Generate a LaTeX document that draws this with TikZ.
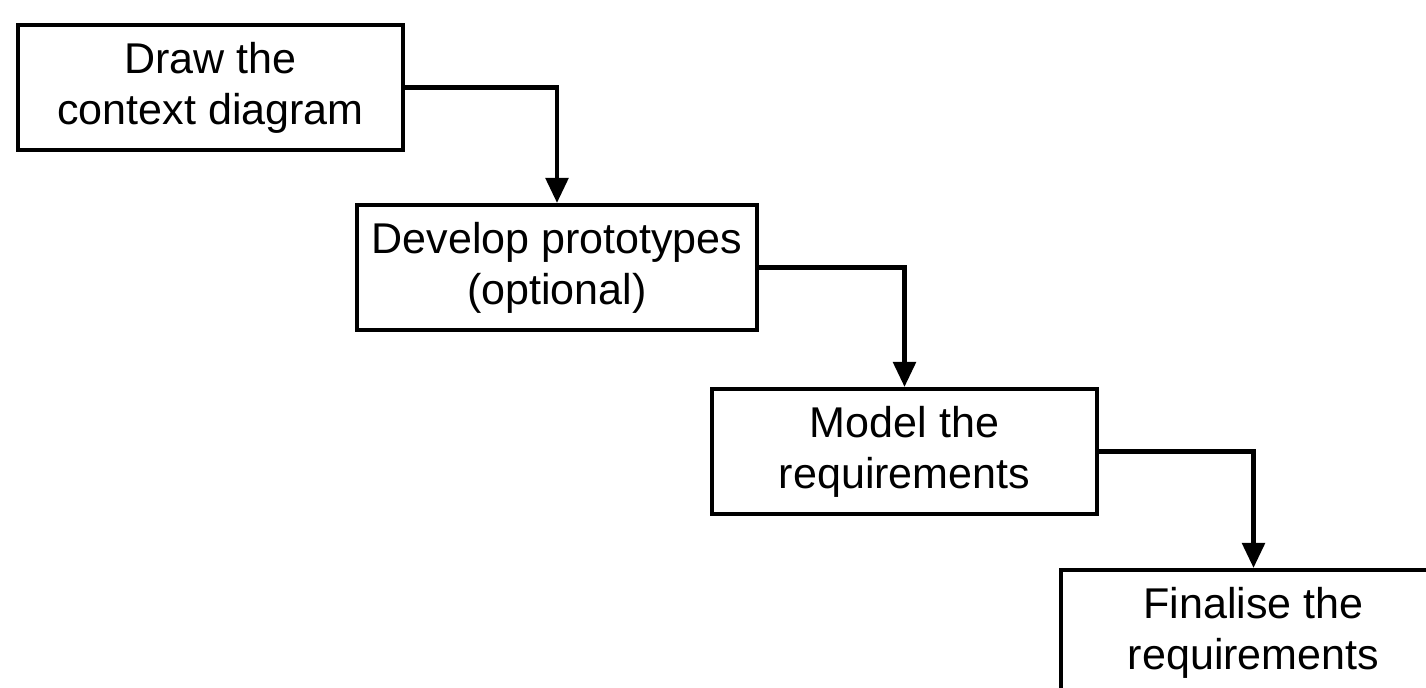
\documentclass[tikz,border=0pt]{standalone}
\usepackage{fontspec}
\setmainfont{Liberation Sans}
\usetikzlibrary{arrows.meta}

\begin{document}
\begin{tikzpicture}
    \useasboundingbox (0,0) rectangle (28.52,-13.74);
    \tikzstyle {stepbox} = [shape=rectangle, draw=black, line width=2.4pt, minimum width=7.7cm, minimum height=2.5cm, align=center, font=\fontsize{24.5}{29}\selectfont];
    \tikzstyle {flow} = [line width=2.4pt, -{Triangle[width=0.45cm,length=0.5cm]}];
    %% the four steps
    \node (ctx) [stepbox] at (4.21,-1.75) {Draw the\\context diagram};
    \node (proto) [stepbox, minimum width=8cm] at (11.14,-5.35) {Develop prototypes\\(optional)};
    \node (model) [stepbox] at (18.09,-9.03) {Model the\\requirements};
    \node (final) [stepbox] at (25.07,-12.65) {Finalise the\\requirements};
    %% links between steps
    \draw [flow] (ctx.east) -| (proto.north);
    \draw [flow] (proto.east) -| (model.north);
    \draw [flow] (model.east) -| (final.north);
\end{tikzpicture}
\end{document}
